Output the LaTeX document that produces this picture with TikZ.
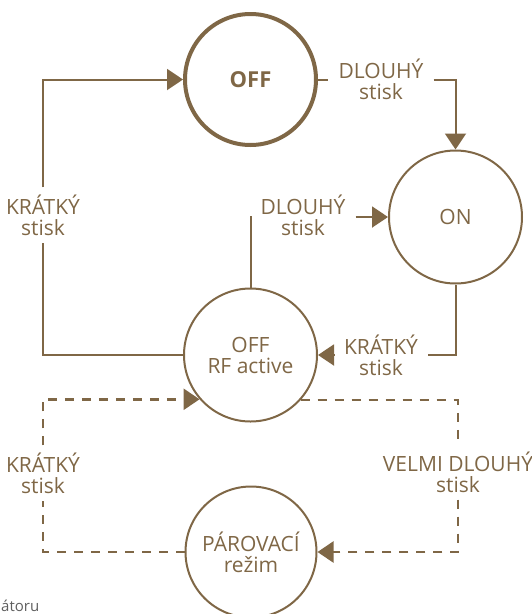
\documentclass[tikz,border=0pt]{standalone}
\usepackage{fontspec}
\setmainfont{Open Sans}
\usetikzlibrary{arrows.meta}
\definecolor{brown}{RGB}{127,103,70}
\begin{document}
\begin{tikzpicture}[x=1pt,y=-1pt,
        state/.style={draw=brown,circle,line width=2pt,minimum size=133pt,text=brown,align=center,font=\fontsize{21}{21}\selectfont},
        lbl/.style={text=brown,align=center,inner xsep=10pt,inner ysep=7pt,font=\fontsize{21}{21}\selectfont},
        conn/.style={draw=brown,line width=2pt},
        dsh/.style={conn,line width=2.5pt,dash pattern=on 9pt off 8pt},
        tip/.style={-{Triangle[length=16pt,width=21pt]}}]
        \useasboundingbox (0,0) rectangle (532,614);
        %% States
        \node[state,line width=4pt,minimum size=131pt,font=\fontsize{22}{22}\selectfont\bfseries] (off) at (250.5,79.5) {OFF};
        \node[state] (on) at (455.5,217) {ON};
        \node[state] (rf) at (250.5,355) {OFF\\RF active};
        \node[state,minimum size=131pt] (pair) at (251,552) {PÁROVACÍ\\režim};
        %% Labels
        \node[lbl] (k1) at (43,215) {KRÁTKÝ\\stisk};
        \node[lbl] (d1) at (381,79.5) {DLOUHÝ\\stisk};
        \node[lbl] (d2) at (303,215) {DLOUHÝ\\stisk};
        \node[lbl] (k2) at (381,355) {KRÁTKÝ\\stisk};
        \node[lbl] (k3) at (43,473) {KRÁTKÝ\\stisk};
        \node[lbl] (v1) at (458,472) {VELMI DLOUHÝ\\stisk};
        %% Solid transitions
        \draw[conn] (rf.north) |- (d2.west |- on.west);
        \draw[conn] (rf.west) -| (k1.south);
        \draw[conn,tip] (k1.north) |- (off.west);
        \draw[conn] (off.east) -- (d1.west);
        \draw[conn,tip] (d1.east) -| (on.north);
        \draw[conn,tip] (d2.east |- on.west) -- (on.west);
        \draw[conn] (on.south) |- (k2.east);
        \draw[conn,tip] (k2.west) -- (rf.east);
        %% Dashed transitions
        \draw[dsh] (rf.-42) -| (v1.north);
        \draw[dsh,tip] (v1.south) |- (pair.east);
        \draw[dsh] (pair.west) -| (k3.south);
        \draw[dsh,tip] (k3.north) |- (rf.-139);
        %% Cut text
        \node[anchor=base west,inner sep=0pt,text={rgb,255:red,95;green,95;blue,95},font=\fontsize{15}{15}\selectfont] (cut) at (1,611) {átoru};
\end{tikzpicture}
\end{document}
